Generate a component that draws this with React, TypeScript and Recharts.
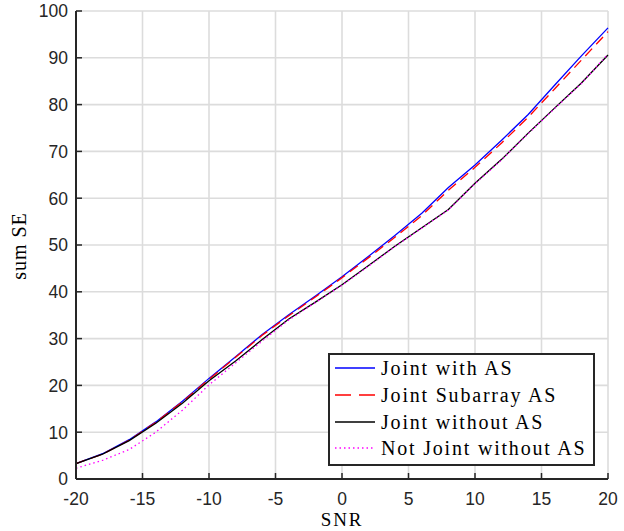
import { LineChart, Line, XAxis, YAxis, CartesianGrid, Legend } from 'recharts'

// SNR (dB) sample points
const snr = [-20, -18, -16, -14, -12, -10, -8, -6, -4, -2, 0, 2, 4, 6, 8, 10, 12, 14, 16, 18, 20]

const jointWithAS = [3.3, 5.4, 8.4, 12.2, 16.6, 21.5, 26.1, 30.9, 35.1, 39.1, 43.2, 47.6, 52.1, 56.8, 62.3, 67.1, 72.4, 77.9, 84.2, 90.4, 96.4]
const jointSubarrayAS = [3.3, 5.3, 8.3, 12.1, 16.5, 21.3, 26.0, 30.7, 34.9, 38.9, 43.0, 47.3, 51.7, 56.3, 61.7, 66.6, 71.8, 77.3, 83.4, 89.5, 95.6]
const jointWithoutAS = [3.3, 5.3, 8.2, 11.9, 16.2, 21.0, 25.2, 29.8, 34.2, 37.8, 41.5, 45.6, 49.8, 53.7, 57.6, 63.2, 68.3, 73.9, 79.3, 84.6, 90.6]
const notJointWithoutAS = [2.3, 4.0, 6.3, 10.0, 14.7, 20.1, 24.8, 29.5, 34.0, 37.7, 41.4, 45.5, 49.7, 53.6, 57.5, 63.1, 68.2, 73.8, 79.2, 84.5, 90.8]

const xTicks = [-20, -15, -10, -5, 0, 5, 10, 15, 20]
const yTicks = [0, 10, 20, 30, 40, 50, 60, 70, 80, 90, 100]

const data = snr.map((s, i) => ({
  snr: s,
  a: jointWithAS[i],
  b: jointSubarrayAS[i],
  c: jointWithoutAS[i],
  d: notJointWithoutAS[i],
}))

const series = [
  { key: 'a', name: 'Joint with AS', color: '#0000ff', dash: undefined, legendDash: undefined },
  { key: 'b', name: 'Joint Subarray AS', color: '#ff0000', dash: '10 6', legendDash: '16 8' },
  { key: 'c', name: 'Joint without AS', color: '#000000', dash: undefined, legendDash: undefined },
  { key: 'd', name: 'Not Joint without AS', color: '#ff00ff', dash: '1.5 3', legendDash: '1.5 3' },
]

const AX = '#262626'
const TICK_LEN = 6
const tickFont = { fontFamily: '"Liberation Sans", Arial, sans-serif', fontSize: 17.5, fill: AX }
const serif = '"Liberation Serif", "Times New Roman", serif'

const BottomTick = (p: any) => (
  <g>
    <line x1={p.x} y1={p.y} x2={p.x} y2={p.y - TICK_LEN} stroke={AX} strokeWidth={1.5} />
    <text x={p.x} y={p.y + 26} textAnchor="middle" {...tickFont}>{p.payload.value}</text>
  </g>
)
const TopTick = (p: any) => (
  <line x1={p.x} y1={p.y} x2={p.x} y2={p.y + TICK_LEN} stroke={AX} strokeWidth={1.5} />
)
const LeftTick = (p: any) => (
  <g>
    <line x1={p.x} y1={p.y} x2={p.x + TICK_LEN} y2={p.y} stroke={AX} strokeWidth={1.5} />
    <text x={p.x - 8} y={p.y + 6.3} textAnchor="end" {...tickFont}>{p.payload.value}</text>
  </g>
)
const RightTick = (p: any) => (
  <line x1={p.x} y1={p.y} x2={p.x - TICK_LEN} y2={p.y} stroke={AX} strokeWidth={1.5} />
)

const LegendBox = () => (
  <div
    style={{
      width: 267,
      height: 113,
      boxSizing: 'border-box',
      border: `2px solid ${AX}`,
      background: '#fff',
      paddingLeft: 5,
      fontFamily: serif,
      fontSize: 20,
      letterSpacing: 1.8,
      color: '#000',
    }}
  >
    {series.map((s) => (
      <div key={s.key} style={{ height: 26.7, display: 'flex', alignItems: 'center' }}>
        <svg width={40} height={10} style={{ marginRight: 6, flexShrink: 0 }}>
          <line x1={0} y1={5} x2={40} y2={5} stroke={s.color} strokeWidth={1.4} strokeDasharray={s.legendDash} />
        </svg>
        <span style={{ whiteSpace: 'nowrap', lineHeight: '20px', fontFamily: serif }}>{s.name}</span>
      </div>
    ))}
  </div>
)

export default function App() {
  return (
    <div style={{ position: 'absolute', left: 0, top: 0, width: 624, height: 531, background: '#fff' }}>
      <LineChart width={624} height={531} data={data} margin={{ top: 11, right: 16, bottom: 0, left: 0 }}>
        <CartesianGrid stroke="#dcdcdc" strokeWidth={1.6} />
        <XAxis
          dataKey="snr"
          type="number"
          domain={[-20, 20]}
          ticks={xTicks}
          height={52}
          tickSize={0}
          tickMargin={0}
          tickLine={false}
          axisLine={{ stroke: AX, strokeWidth: 2 }}
          tick={BottomTick}
          interval={0}
          label={(props: any) => {
            const vb = props.viewBox
            return (
              <text x={vb.x + vb.width / 2} y={vb.y + 47} textAnchor="middle" fontFamily={serif} fontSize={19} letterSpacing={1.8} fill="#000">
                SNR
              </text>
            )
          }}
        />
        <XAxis
          xAxisId="top"
          orientation="top"
          dataKey="snr"
          type="number"
          domain={[-20, 20]}
          ticks={xTicks}
          height={0}
          tickSize={0}
          tickMargin={0}
          tickLine={false}
          axisLine={{ stroke: AX, strokeWidth: 2 }}
          tick={TopTick}
          interval={0}
        />
        <YAxis
          type="number"
          domain={[0, 100]}
          ticks={yTicks}
          width={76}
          tickSize={0}
          tickMargin={0}
          tickLine={false}
          axisLine={{ stroke: AX, strokeWidth: 2 }}
          tick={LeftTick}
          interval={0}
          label={(props: any) => {
            const vb = props.viewBox
            const cx = vb.x + 26
            const cy = vb.y + vb.height / 2 + 1
            return (
              <text x={cx} y={cy} transform={`rotate(-90, ${cx}, ${cy})`} textAnchor="middle" fontFamily={serif} fontSize={20} letterSpacing={1} fill="#000">
                sum SE
              </text>
            )
          }}
        />
        <YAxis
          yAxisId="right"
          orientation="right"
          type="number"
          domain={[0, 100]}
          ticks={yTicks}
          width={0}
          tickSize={0}
          tickMargin={0}
          tickLine={false}
          axisLine={{ stroke: AX, strokeWidth: 2 }}
          tick={RightTick}
          interval={0}
        />
        {series.map((s) => (
          <Line
            key={s.key}
            type="linear"
            dataKey={s.key}
            name={s.name}
            stroke={s.color}
            strokeWidth={1.3}
            strokeDasharray={s.dash}
            dot={false}
            activeDot={false}
            isAnimationActive={false}
          />
        ))}
        <Legend
          layout="horizontal"
          verticalAlign="middle"
          align="center"
          content={LegendBox}
          wrapperStyle={{ position: 'absolute', left: 328, top: 353, width: 267, height: 113 }}
        />
      </LineChart>
    </div>
  )
}
